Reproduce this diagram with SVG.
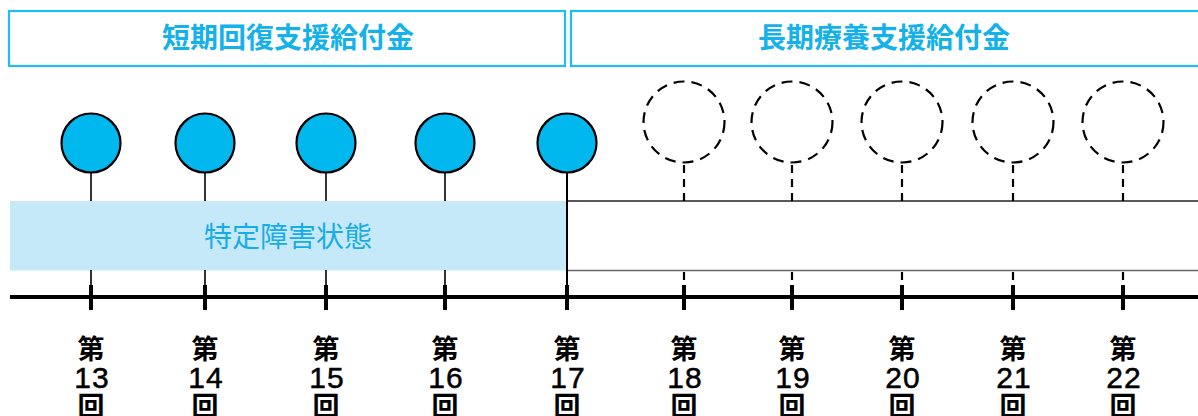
<svg xmlns="http://www.w3.org/2000/svg" width="1198" height="416" viewBox="0 0 1198 416">
<style>
.hdr{fill:#fff;stroke:#22bdf0;stroke-width:2.2}
.htxt{font-family:"Noto Sans CJK JP","Noto Sans",sans-serif;font-weight:700;font-size:28px;fill:#14b1ea;text-anchor:middle}
.dot{fill:#00b8ee;stroke:#000;stroke-width:2.2}
.ghost{fill:none;stroke:#000;stroke-width:2.2;stroke-dasharray:11 7}
.stem{stroke:#000;stroke-width:1.6;fill:none}
.dstem{stroke:#000;stroke-width:2.2;fill:none;stroke-dasharray:8 6}
.tick{stroke:#000;stroke-width:4;fill:none}
.lbl{font-family:"Noto Sans CJK JP",sans-serif;font-weight:700;font-size:27px;fill:#000;text-anchor:middle}
.num{font-family:"Liberation Sans",Arial,sans-serif;font-size:30px;letter-spacing:1px;fill:#000;stroke:#000;stroke-width:0.5;text-anchor:middle}
</style>
<rect width="1198" height="416" fill="#fff"/>
<g id="header-short">
<rect class="hdr" x="9" y="11" width="556" height="55"/>
<text class="htxt" x="288" y="48">短期回復支援給付金</text>
</g>
<g id="header-long">
<rect class="hdr" x="571" y="11" width="640" height="55"/>
<text class="htxt" x="884" y="48">長期療養支援給付金</text>
</g>
<g id="state-band">
<rect x="10" y="201" width="557" height="69.5" fill="#c5e9f9"/>
<text x="288" y="247" font-family="'Noto Sans CJK JP',sans-serif" font-size="28" fill="#18ace6" text-anchor="middle">特定障害状態</text>
<line x1="567" y1="201" x2="1198" y2="201" stroke="#222" stroke-width="1.5"/>
<line x1="567" y1="270.5" x2="1198" y2="270.5" stroke="#666" stroke-width="1.5"/>
</g>
<g id="connectors">
<line x1="10" y1="297" x2="1198" y2="297" stroke="#000" stroke-width="4"/>
<g class="stem">
<line x1="91" y1="173" x2="91" y2="201"/><line x1="91" y1="270" x2="91" y2="286"/>
<line x1="205" y1="173" x2="205" y2="201"/><line x1="205" y1="270" x2="205" y2="286"/>
<line x1="326" y1="173" x2="326" y2="201"/><line x1="326" y1="270" x2="326" y2="286"/>
<line x1="445" y1="173" x2="445" y2="201"/><line x1="445" y1="270" x2="445" y2="286"/>
<line x1="567" y1="173" x2="567" y2="286" stroke-width="2"/>
</g>
<g class="dstem">
<line x1="684" y1="165" x2="684" y2="201"/><line x1="684" y1="272" x2="684" y2="286"/>
<line x1="792" y1="165" x2="792" y2="201"/><line x1="792" y1="272" x2="792" y2="286"/>
<line x1="902" y1="165" x2="902" y2="201"/><line x1="902" y1="272" x2="902" y2="286"/>
<line x1="1013" y1="165" x2="1013" y2="201"/><line x1="1013" y1="272" x2="1013" y2="286"/>
<line x1="1123" y1="165" x2="1123" y2="201"/><line x1="1123" y1="272" x2="1123" y2="286"/>
</g>
<g class="tick">
<line x1="91" y1="285" x2="91" y2="310"/>
<line x1="205" y1="285" x2="205" y2="310"/>
<line x1="326" y1="285" x2="326" y2="310"/>
<line x1="445" y1="285" x2="445" y2="310"/>
<line x1="567" y1="285" x2="567" y2="310"/>
<line x1="684" y1="285" x2="684" y2="310"/>
<line x1="792" y1="285" x2="792" y2="310"/>
<line x1="902" y1="285" x2="902" y2="310"/>
<line x1="1013" y1="285" x2="1013" y2="310"/>
<line x1="1123" y1="285" x2="1123" y2="310"/>
</g>
</g>
<g id="n13"><circle class="dot" cx="91" cy="143" r="29.5"/><text class="lbl" x="91" y="359">第</text><text class="num" x="92" y="388">13</text><text class="lbl" x="91" y="416">回</text></g>
<g id="n14"><circle class="dot" cx="205" cy="143" r="29.5"/><text class="lbl" x="205" y="359">第</text><text class="num" x="206" y="388">14</text><text class="lbl" x="205" y="416">回</text></g>
<g id="n15"><circle class="dot" cx="326" cy="143" r="29.5"/><text class="lbl" x="326" y="359">第</text><text class="num" x="327" y="388">15</text><text class="lbl" x="326" y="416">回</text></g>
<g id="n16"><circle class="dot" cx="445" cy="143" r="29.5"/><text class="lbl" x="445" y="359">第</text><text class="num" x="446" y="388">16</text><text class="lbl" x="445" y="416">回</text></g>
<g id="n17"><circle class="dot" cx="567" cy="143" r="29.5"/><text class="lbl" x="567" y="359">第</text><text class="num" x="568" y="388">17</text><text class="lbl" x="567" y="416">回</text></g>
<g id="n18"><circle class="ghost" cx="684" cy="122" r="40.5"/><text class="lbl" x="684" y="359">第</text><text class="num" x="685" y="388">18</text><text class="lbl" x="684" y="416">回</text></g>
<g id="n19"><circle class="ghost" cx="792" cy="122" r="40.5"/><text class="lbl" x="792" y="359">第</text><text class="num" x="793" y="388">19</text><text class="lbl" x="792" y="416">回</text></g>
<g id="n20"><circle class="ghost" cx="902" cy="122" r="40.5"/><text class="lbl" x="902" y="359">第</text><text class="num" x="903" y="388">20</text><text class="lbl" x="902" y="416">回</text></g>
<g id="n21"><circle class="ghost" cx="1013" cy="122" r="40.5"/><text class="lbl" x="1013" y="359">第</text><text class="num" x="1014" y="388">21</text><text class="lbl" x="1013" y="416">回</text></g>
<g id="n22"><circle class="ghost" cx="1123" cy="122" r="40.5"/><text class="lbl" x="1123" y="359">第</text><text class="num" x="1124" y="388">22</text><text class="lbl" x="1123" y="416">回</text></g>
</svg>
